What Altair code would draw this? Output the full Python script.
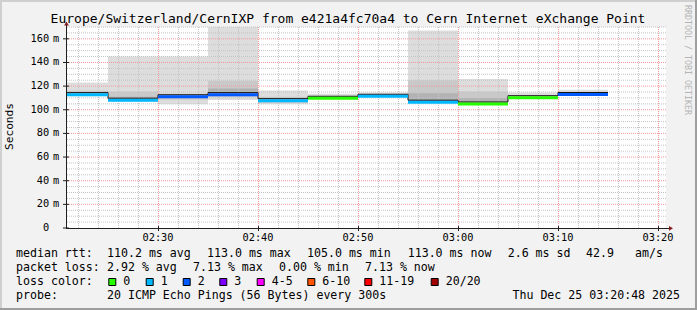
import altair as alt
import pandas as pd

# ---- data (minutes after 02:00) ----
seg_start = [20.8, 25, 30, 35, 40, 45, 50, 55, 60, 65, 70]
seg_end = [25, 30, 35, 40, 45, 50, 55, 60, 65, 70, 75]
median = [112.8, 108.1, 111.0, 112.8, 107.7, 109.7, 111.4, 106.4, 104.9, 110.2, 112.9]
loss = ["1", "1", "2", "2", "1", "0", "1", "1", "0", "0", "2"]
outer_lo = [111.5, 107.0, 104.6, 108.3, 104.6, 109.0, 110.8, 105.5, 104.0, 109.8, 112.0]
outer_hi = [123.0, 145.0, 145.0, 170.0, 116.2, 113.5, 114.6, 167.0, 126.0, 114.5, 117.0]
mid_lo = [111.8, 107.5, 108.5, 110.5, 106.0, 109.2, 111.0, 106.0, 104.5, 110.0, 112.2]
mid_hi = [116.0, 115.5, 113.5, 124.5, 111.0, 111.0, 112.8, 125.0, 115.5, 111.8, 114.5]
inner_lo = [112.3, 107.8, 110.0, 111.8, 107.0, 109.5, 111.2, 106.2, 104.7, 110.1, 112.5]
inner_hi = [114.0, 111.0, 112.0, 118.0, 109.0, 110.2, 111.8, 114.0, 110.0, 110.8, 113.5]

loss_keys = ["0", "1", "2", "3", "4-5", "6-10", "11-19", "20/20"]
loss_colors = ["#26ff00", "#00b8ff", "#0059ff", "#7e00ff", "#ff00ff", "#ff5500", "#ff0000", "#a10000"]

x_major = [30, 40, 50, 60, 70, 80]
x_minor = [m for m in range(22, 81, 2) if m % 10 != 0]
y_major = [0, 20, 40, 60, 80, 100, 120, 140, 160]
y_minor = [v for v in range(5, 171, 5) if v % 20 != 0]

title_text = "Europe/Switzerland/CernIXP from e421a4fc70a4 to Cern Internet eXchange Point"
line1 = ["median rtt:", "110.2 ms avg", "113.0 ms max", "105.0 ms min", "113.0 ms now", "2.6 ms sd", "42.9", "am/s"]
line2 = ["packet loss:", "2.92 % avg", "7.13 % max", "0.00 % min", "7.13 % now"]
line4 = ["probe:", "20 ICMP Echo Pings (56 Bytes) every 300s"]
stamp = "Thu Dec 25 03:20:48 2025"

df = pd.DataFrame({
    "start": seg_start, "end": seg_end, "median": median, "loss": loss,
    "olo": outer_lo, "ohi": outer_hi, "mlo": mid_lo, "mhi": mid_hi,
    "ilo": inner_lo, "ihi": inner_hi,
})
step_df = pd.DataFrame({"t": seg_start + [seg_end[-1]], "m": median + [median[-1]]})

FONT = "DejaVu Sans Mono"
xs = alt.Scale(domain=[20.8, 80.8], nice=False, zero=False)
ys = alt.Scale(domain=[0, 170], nice=False, zero=True)


def X(f):
    return alt.X(f, scale=xs, axis=None)


def Y(f):
    return alt.Y(f, scale=ys, axis=None)


def smoke(lo, hi, color):
    return alt.Chart(df).mark_rect(color=color).encode(
        x=X("start:Q"), x2="end:Q", y=Y(f"{lo}:Q"), y2=f"{hi}:Q")


AXC = "#1f1f1f"
xlab_expr = "'0' + (2 + floor(datum.t / 60)) + ':' + (datum.t % 60 < 10 ? '0' : '') + (datum.t % 60)"

layers = [
    smoke("olo", "ohi", "#dddddd"),
    smoke("mlo", "mhi", "#c9c9c9"),
    smoke("ilo", "ihi", "#b2b2b2"),
    alt.Chart(pd.DataFrame({"t": x_minor})).mark_rule(color="#c4c4c4", strokeDash=[1, 1], xOffset=0.5)
    .encode(x=X("t:Q")),
    alt.Chart(pd.DataFrame({"v": y_minor})).mark_rule(color="#c4c4c4", strokeDash=[1, 1])
    .encode(y=Y("v:Q")),
    alt.Chart(pd.DataFrame({"t": x_major})).mark_rule(color="#f09a9a", strokeDash=[1, 1], xOffset=0.5)
    .encode(x=X("t:Q")),
    alt.Chart(pd.DataFrame({"v": y_major[1:]})).mark_rule(color="#f09a9a", strokeDash=[1, 1])
    .encode(y=Y("v:Q")),
    # black median step line
    alt.Chart(step_df).mark_line(interpolate="step-after", color="#111111", strokeWidth=1, yOffset=-2)
    .encode(x=X("t:Q"), y=Y("m:Q")),
    # coloured median by loss
    alt.Chart(df).mark_rule(strokeWidth=3).encode(
        x=X("start:Q"), x2="end:Q", y=Y("median:Q"),
        color=alt.Color("loss:N", scale=alt.Scale(domain=loss_keys, range=loss_colors), legend=None),
    ),
    # x axis: line, ticks, labels
    alt.Chart(pd.DataFrame({"t": x_major})).mark_rule(color=AXC, xOffset=0.5)
    .encode(x=X("t:Q"), y=alt.value(199), y2=alt.value(204)),
    alt.Chart(pd.DataFrame({"t": x_major})).transform_calculate(lab=xlab_expr)
    .mark_text(font=FONT, fontSize=10.3, align="center", baseline="middle", color="#000000")
    .encode(x=X("t:Q"), y=alt.value(211), text="lab:N"),
    # y axis: ticks, labels, units
    alt.Chart(pd.DataFrame({"v": y_major})).mark_rule(color=AXC)
    .encode(y=Y("v:Q"), x=alt.value(-3), x2=alt.value(3)),
    alt.Chart(pd.DataFrame({"v": y_major}))
    .mark_text(font=FONT, fontSize=10.3, align="right", baseline="middle", color="#000000")
    .encode(x=alt.value(-16.8), y=Y("v:Q"), text="v:Q"),
    alt.Chart(pd.DataFrame({"v": y_major[1:]}))
    .mark_text(font=FONT, fontSize=10.3, align="left", baseline="middle", color="#000000")
    .encode(x=alt.value(-13), y=Y("v:Q"), text=alt.value("m")),
]

one = pd.DataFrame({"a": [0]})


def txt(s, x, y, size=11.6, align="left", angle=None, color="#000000"):
    kw = dict(font=FONT, fontSize=size, align=align, baseline="middle", color=color)
    if angle is not None:
        kw["angle"] = angle
    return alt.Chart(one).mark_text(**kw).encode(x=alt.value(x), y=alt.value(y), text=alt.value(s))


# axis lines
layers.append(alt.Chart(one).mark_rule(color=AXC).encode(
    x=alt.value(0), x2=alt.value(604), y=alt.value(201.5)))
layers.append(alt.Chart(one).mark_rule(color=AXC).encode(
    x=alt.value(0.5), y=alt.value(-3), y2=alt.value(201.5)))

# title, y title, watermark
layers.append(txt(title_text, 282, -8, size=13, align="center"))
layers.append(txt("Seconds", -56, 99.5, size=11.2, align="center", angle=270))
layers.append(txt("RRDTOOL / TOBI OETIKER", 621, -22, size=8.3, align="left", angle=90, color="#b4b4b4"))

# legend/stat lines
for s, x in zip(line1, [-50, 41, 141, 241, 341.7, 441.7, 520, 569]):
    layers.append(txt(s, x, 227))
for s, x in zip(line2, [-50, 41, 127, 213, 299]):
    layers.append(txt(s, x, 241.3))
layers.append(txt("loss color:", -50, 255))
box_left = [108.3, 145.7, 182.7, 219.3, 256.7, 307.3, 364.3, 430.7]
for k, c, bx in zip(loss_keys, loss_colors, box_left):
    layers.append(alt.Chart(one).mark_rect(fill=c, stroke="#000000", strokeWidth=1).encode(
        x=alt.value(bx - 66 + 0.5), x2=alt.value(bx - 66 + 7.5), y=alt.value(251.5), y2=alt.value(258.5)))
    layers.append(txt(k, bx - 66 + 15, 255))
for s, x in zip(line4, [-50, 41]):
    layers.append(txt(s, x, 269))
layers.append(txt(stamp, 614, 269, align="right"))

# arrows
layers.append(alt.Chart(one).mark_point(shape="triangle-right", filled=True, size=22, color="#801f1f", opacity=1)
              .encode(x=alt.value(605), y=alt.value(201.3)))
layers.append(alt.Chart(one).mark_point(shape="triangle-up", filled=True, size=22, color="#801f1f", opacity=1)
              .encode(x=alt.value(0.5), y=alt.value(-3.5)))

# 3D frame
layers.append(alt.Chart(one).mark_rule(color="#cfcfcf", strokeWidth=2).encode(
    x=alt.value(-66), x2=alt.value(631), y=alt.value(-26)))
layers.append(alt.Chart(one).mark_rule(color="#cfcfcf", strokeWidth=2).encode(
    x=alt.value(-65), y=alt.value(-27), y2=alt.value(283)))
layers.append(alt.Chart(one).mark_rule(color="#9e9e9e", strokeWidth=2).encode(
    x=alt.value(-66), x2=alt.value(631), y=alt.value(282)))
layers.append(alt.Chart(one).mark_rule(color="#9e9e9e", strokeWidth=2).encode(
    x=alt.value(630), y=alt.value(-27), y2=alt.value(283)))

chart = alt.layer(*layers).properties(
    width=600, height=201,
    padding={"left": 66, "top": 27, "right": 31, "bottom": 82},
    autosize=alt.AutoSizeParams(type="none"),
).configure(background="#f2f2f2").configure_view(stroke=None, fill="#ffffff")

chart.save("out.html", embed_options={"renderer": "svg", "actions": False})
